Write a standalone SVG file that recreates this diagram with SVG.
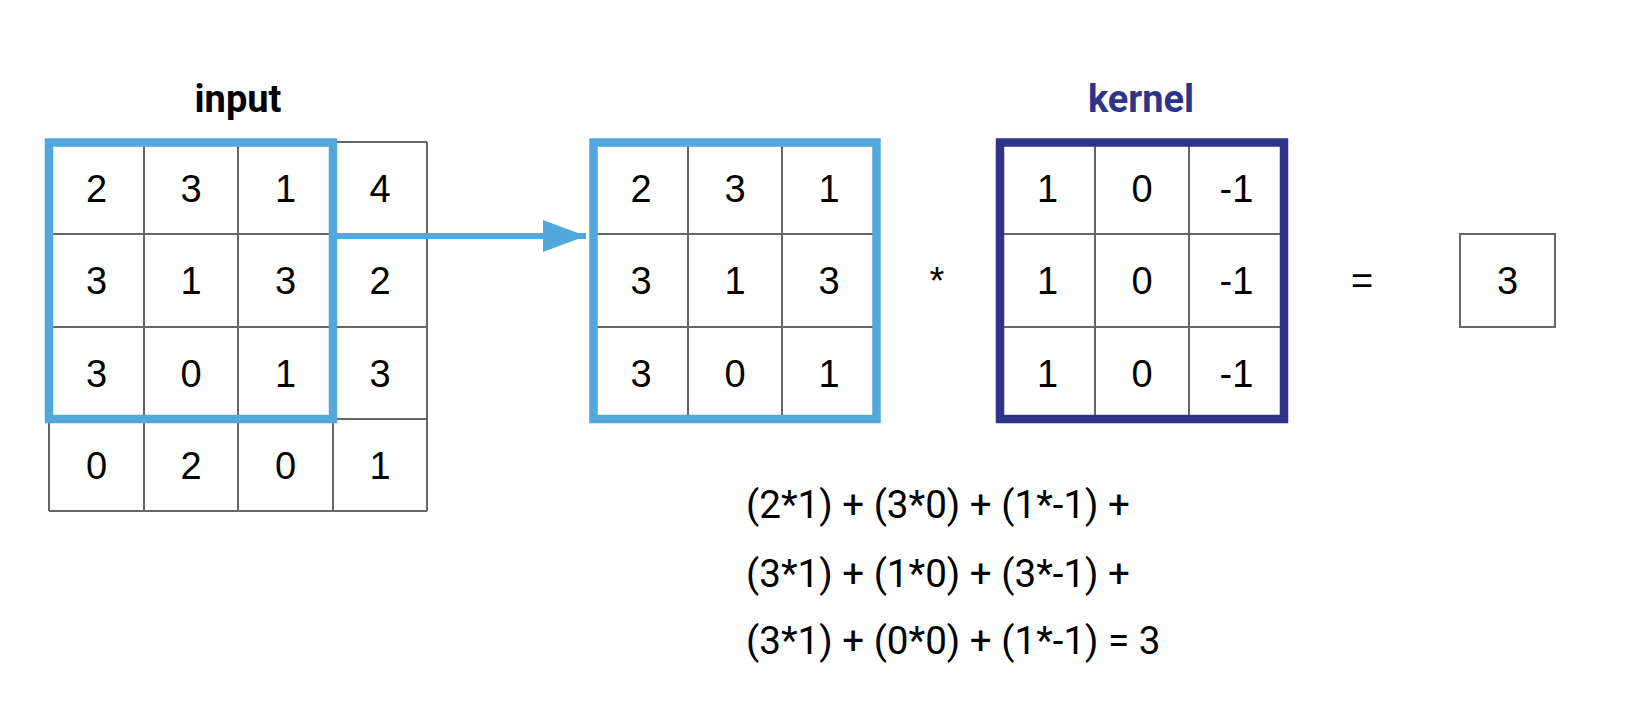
<svg xmlns="http://www.w3.org/2000/svg" width="1634" height="728" viewBox="0 0 1634 728">
<defs>
<style>
.grid{stroke:#666666;stroke-width:2;fill:none}
.blue{stroke:#52A7DC;stroke-width:8.5;fill:none}
.navy{stroke:#2E348A;stroke-width:8.5;fill:none}
.num{font-family:"Liberation Sans",Arial,sans-serif;font-size:38px;fill:#000;text-anchor:middle}
.title{font-family:Roboto,"Liberation Sans",sans-serif;font-weight:bold;font-size:38px;text-anchor:middle}
.eq{font-family:Roboto,"Liberation Sans",sans-serif;font-size:38.6px;fill:#000}
</style>
<marker id="ah" markerUnits="userSpaceOnUse" markerWidth="44" markerHeight="34" refX="43" refY="16" orient="auto">
<path d="M0,0 L43,16 L0,32 Z" fill="#52A7DC"/>
</marker>
</defs>
<rect width="1634" height="728" fill="#ffffff"/>

<g id="input">
<text class="title" x="238" y="112" fill="#000">input</text>
<path class="grid" d="M49,142H427M49,234H427M49,327H427M49,419H427M49,511H427M49,142V511M144,142V511M238,142V511M333,142V511M427,142V511"/>
<rect class="blue" x="49" y="142.5" width="284" height="276.5"/>
<g class="num">
<text x="96.5" y="202">2</text><text x="191" y="202">3</text><text x="285.5" y="202">1</text><text x="380" y="202">4</text>
<text x="96.5" y="294">3</text><text x="191" y="294">1</text><text x="285.5" y="294">3</text><text x="380" y="294">2</text>
<text x="96.5" y="387">3</text><text x="191" y="387">0</text><text x="285.5" y="387">1</text><text x="380" y="387">3</text>
<text x="96.5" y="479">0</text><text x="191" y="479">2</text><text x="285.5" y="479">0</text><text x="380" y="479">1</text>
</g>
</g>

<g id="connectors">
<line x1="333" y1="236" x2="586" y2="236" stroke="#52A7DC" stroke-width="6" marker-end="url(#ah)"/>
</g>

<g id="patch">
<path class="grid" d="M593.5,234H876.5M593.5,327H876.5M688,142.5V419M782,142.5V419"/>
<rect class="blue" x="593.5" y="142.5" width="283" height="276.5"/>
<g class="num">
<text x="641" y="202">2</text><text x="735" y="202">3</text><text x="829" y="202">1</text>
<text x="641" y="294">3</text><text x="735" y="294">1</text><text x="829" y="294">3</text>
<text x="641" y="387">3</text><text x="735" y="387">0</text><text x="829" y="387">1</text>
</g>
</g>

<g id="times">
<text class="num" x="937" y="294">*</text>
</g>

<g id="kernel">
<text class="title" x="1141" y="112" fill="#2E348A">kernel</text>
<path class="grid" d="M1000,234H1284M1000,327H1284M1095,142.5V419M1189,142.5V419"/>
<rect class="navy" x="1000" y="142.5" width="284" height="276.5"/>
<g class="num">
<text x="1047.5" y="202">1</text><text x="1142" y="202">0</text><text x="1236.5" y="202">-1</text>
<text x="1047.5" y="294">1</text><text x="1142" y="294">0</text><text x="1236.5" y="294">-1</text>
<text x="1047.5" y="387">1</text><text x="1142" y="387">0</text><text x="1236.5" y="387">-1</text>
</g>
</g>

<g id="equals">
<text class="num" x="1362" y="294">=</text>
</g>

<g id="output">
<rect class="grid" x="1460" y="234" width="95" height="93"/>
<text class="num" x="1507.5" y="294">3</text>
</g>

<g id="formula">
<text class="eq" x="746" y="518">(2*1) + (3*0) + (1*-1) +</text>
<text class="eq" x="746" y="587">(3*1) + (1*0) + (3*-1) +</text>
<text class="eq" x="746" y="654">(3*1) + (0*0) + (1*-1) = 3</text>
</g>
</svg>
